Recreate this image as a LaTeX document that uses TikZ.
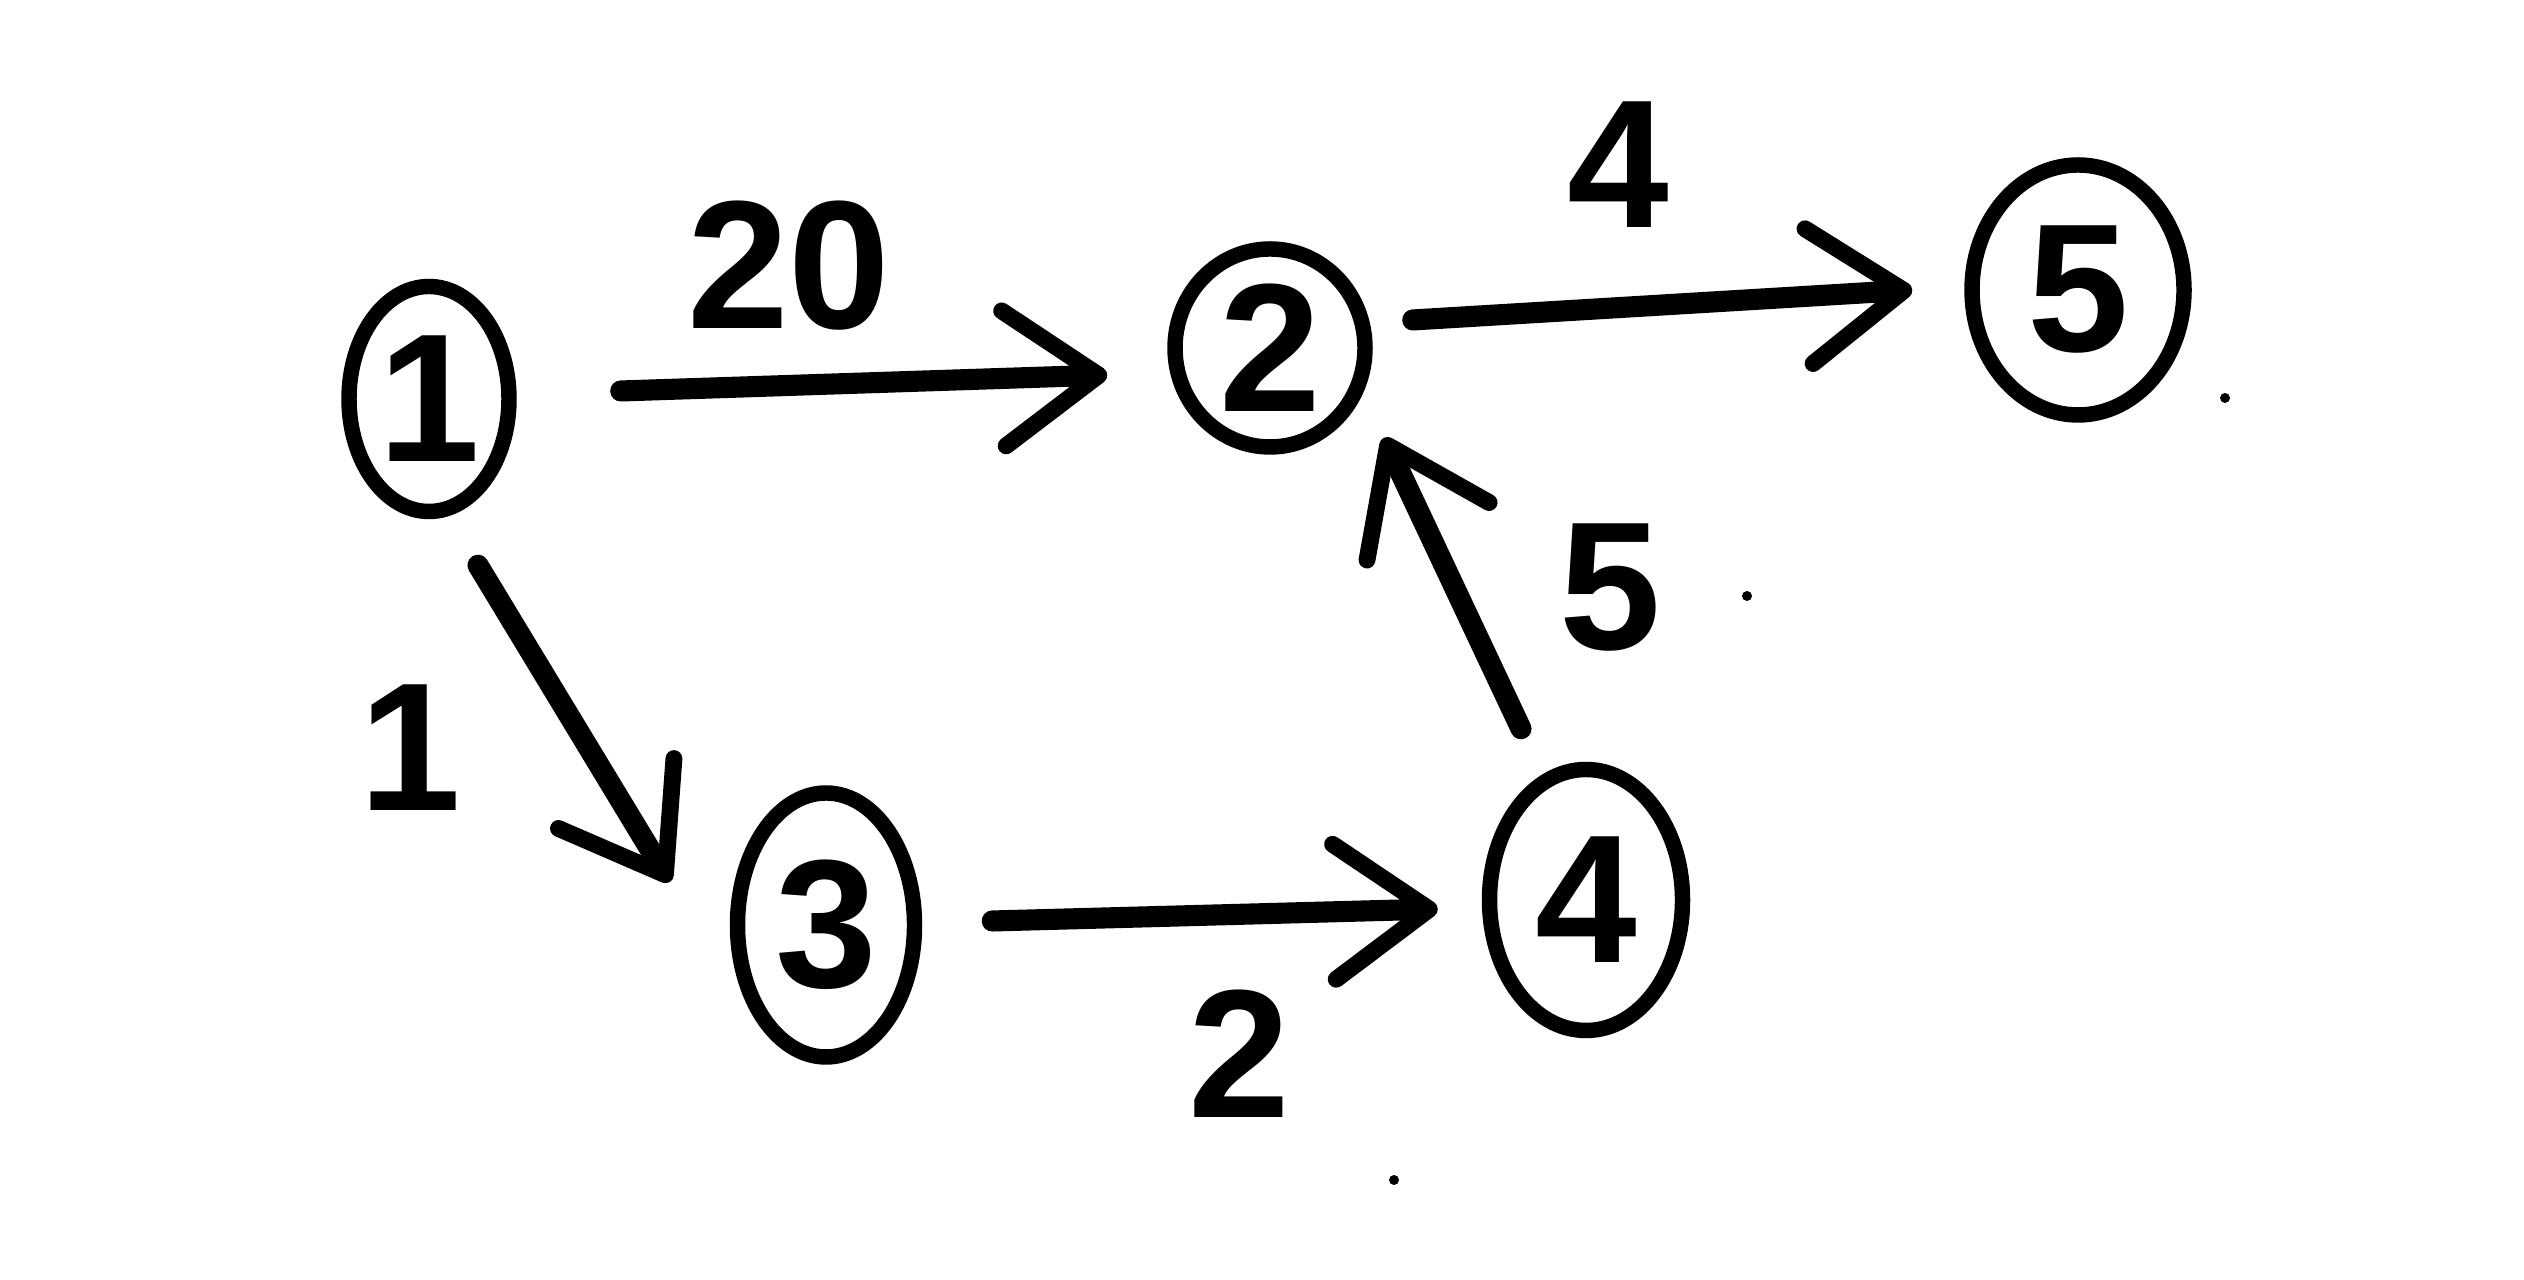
\documentclass[tikz,border=0pt]{standalone}
\usepackage{fontspec}
\setmainfont{Liberation Sans}
\usetikzlibrary{arrows.meta,calc,shapes.geometric}
\begin{document}
\begin{tikzpicture}[
  vert/.style={draw, ellipse, line width=4.4pt, inner sep=0pt,
    font=\fontsize{52}{54}\selectfont\bfseries},
  wlabel/.style={font=\fontsize{52}{54}\selectfont\bfseries, inner sep=0pt},
  arr/.style={line width=6pt, line cap=round, line join=round,
    -{Straight Barb[length=0.95cm, width=1.35cm, line width=4.8pt, round]}},
  straydot/.style={fill=black, circle, inner sep=0pt, minimum size=0.1cm}
]
\useasboundingbox (0,0) rectangle (25.24,12.80);
\fill[white] (0,0) rectangle (25.24,12.80);

\node[vert, minimum width=1.60cm, minimum height=2.25cm] (n1) at (4.29,8.81) {1};
\node[vert, minimum width=1.90cm, minimum height=1.98cm] (n2) at (12.70,9.32) {2};
\node[vert, minimum width=2.12cm, minimum height=2.50cm] (n5) at (20.78,9.90) {5};
\node[vert, minimum width=1.77cm, minimum height=2.64cm] (n3) at (8.26,3.55) {3};
\node[vert, minimum width=1.93cm, minimum height=2.61cm] (n4) at (15.86,3.80) {4};

\draw[arr] ($(n1.east)+(1.04,0.08)$) -- ($(n2.west)+(-0.60,-0.27)$);
\draw[arr] ($(n2.east)+(0.40,0.28)$) -- ($(n5.west)+(-0.52,0)$);
\draw[arr] ($(n1.south)+(0.49,-0.46)$) -- ($(n3.west)+(-0.60,0.43)$);
\draw[arr] ($(n3.east)+(0.70,0.04)$) -- ($(n4.west)+(-0.44,-0.09)$);
\draw[arr] ($(n4.north)+(-0.65,0.33)$) -- ($(n2.south)+(1.14,0.17)$);

\node[wlabel] (l12) at (7.89,10.14) {20};
\node[wlabel] (l25) at (16.18,11.15) {4};
\node[wlabel] (l13) at (4.10,5.32) {1};
\node[wlabel] (l34) at (12.39,2.26) {2};
\node[wlabel] (l42) at (16.10,6.92) {5};

\node[straydot] (d1) at (22.25,8.82) {};
\node[straydot] (d2) at (17.47,6.84) {};
\node[straydot] (d3) at (13.94,1.00) {};
\end{tikzpicture}
\end{document}
